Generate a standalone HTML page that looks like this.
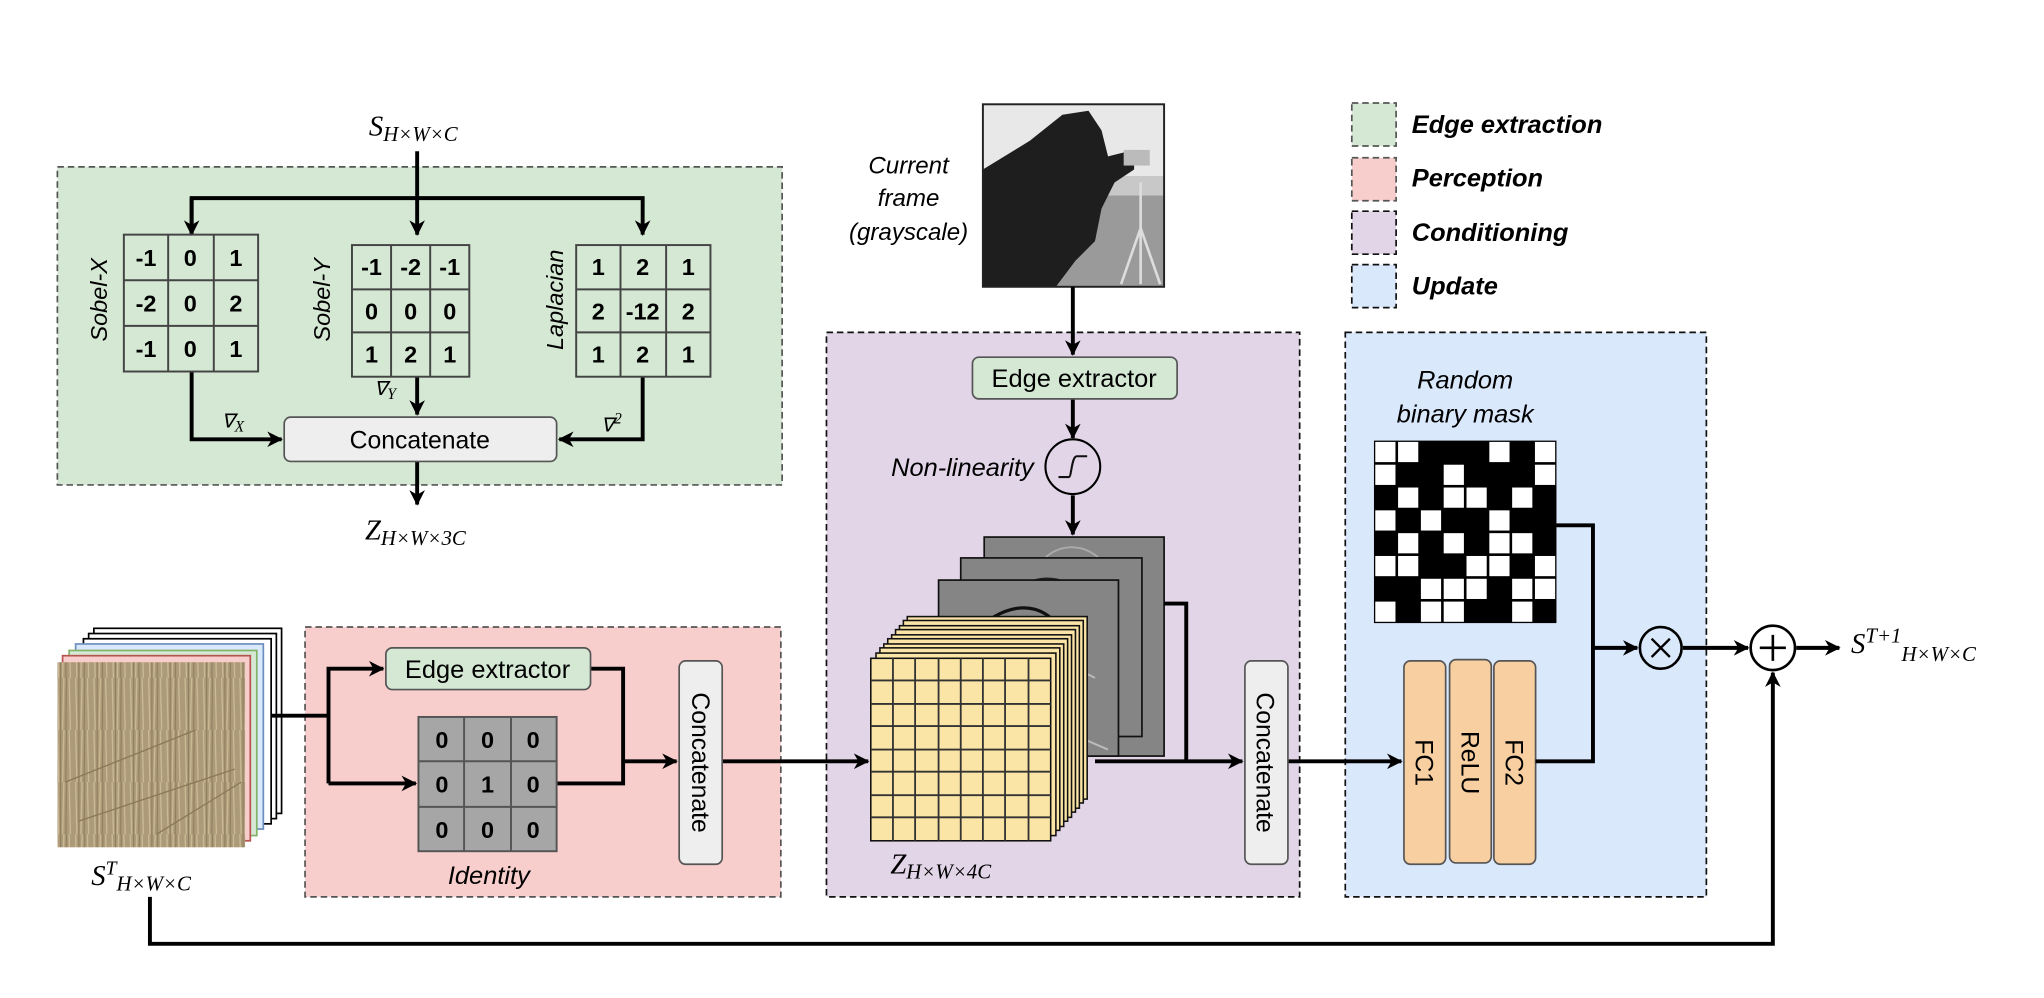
<!DOCTYPE html>
<html><head><meta charset="utf-8"><style>
html,body{margin:0;padding:0;background:#fff;}
svg{display:block;}
.s{font-family:"Liberation Sans",sans-serif;}
.m{font-family:"Liberation Serif",serif;font-style:italic;}
</style></head><body>
<svg width="2044" height="998" viewBox="0 0 1568 765.6" xmlns="http://www.w3.org/2000/svg">
<defs>
<marker id="a" markerWidth="12" markerHeight="12" refX="11" refY="6" orient="auto" markerUnits="userSpaceOnUse"><path d="M0,0 L12,6 L0,12 L3.5,6 Z" fill="#000"/></marker>
<pattern id="grass" width="14" height="40" patternUnits="userSpaceOnUse">
<rect width="14" height="40" fill="#ad9a78"/>
<path d="M2,0 L3,40 M7,0 L6,40 M11,0 L12,40" stroke="#cbbb96" stroke-width="1"/>
<path d="M4.5,0 L4.5,40 M9,0 L8.5,40" stroke="#8a785a" stroke-width="0.7"/>
</pattern>
</defs>
<rect width="1568" height="766" fill="#fff"/>

<rect x="44" y="128" width="556" height="244" fill="#d5e8d4" stroke="#555" stroke-width="1.3" stroke-dasharray="5,3"/>
<rect x="234" y="481" width="365" height="207" fill="#f8cecc" stroke="#555" stroke-width="1.3" stroke-dasharray="5,3"/>
<rect x="634" y="255" width="363" height="433" fill="#e1d5e7" stroke="#111" stroke-width="1.3" stroke-dasharray="5,3"/>
<rect x="1032" y="255" width="277" height="433" fill="#dae8fc" stroke="#111" stroke-width="1.3" stroke-dasharray="5,3"/>

<rect x="1037" y="79" width="34" height="33" fill="#d5e8d4" stroke="#555" stroke-width="1.3" stroke-dasharray="5,3"/>
<rect x="1037" y="121" width="34" height="33" fill="#f8cecc" stroke="#555" stroke-width="1.3" stroke-dasharray="5,3"/>
<rect x="1037" y="162" width="34" height="33" fill="#e1d5e7" stroke="#111" stroke-width="1.3" stroke-dasharray="5,3"/>
<rect x="1037" y="203" width="34" height="33" fill="#dae8fc" stroke="#111" stroke-width="1.3" stroke-dasharray="5,3"/>
<g class="s" font-size="19.5" font-weight="bold" font-style="italic">
<text x="1083" y="102">Edge extraction</text>
<text x="1083" y="143">Perception</text>
<text x="1083" y="185">Conditioning</text>
<text x="1083" y="226">Update</text>
</g>

<text x="283" y="104" class="m" font-size="22">S<tspan font-size="16" dy="4">H×W×C</tspan></text>
<g stroke="#000" stroke-width="3" fill="none">
<line x1="320" y1="116" x2="320" y2="180" marker-end="url(#a)"/>
<polyline points="147,180 147,152 493,152 493,180" marker-end="url(#a)"/>
<line x1="147" y1="152" x2="147" y2="180" marker-end="url(#a)"/>
<polyline points="147,285 147,337 216,337" marker-end="url(#a)"/>
<line x1="320" y1="289" x2="320" y2="318" marker-end="url(#a)"/>
<polyline points="493,289 493,337 429,337" marker-end="url(#a)"/>
<line x1="320" y1="354" x2="320" y2="387" marker-end="url(#a)"/>
</g>
<g stroke="#444" stroke-width="1.5" fill="none">
<rect x="95" y="180" width="103" height="105"/><line x1="129" y1="180" x2="129" y2="285"/><line x1="164" y1="180" x2="164" y2="285"/><line x1="95" y1="215" x2="198" y2="215"/><line x1="95" y1="250" x2="198" y2="250"/>
<rect x="270" y="188" width="90" height="101"/><line x1="300" y1="188" x2="300" y2="289"/><line x1="330" y1="188" x2="330" y2="289"/><line x1="270" y1="222" x2="360" y2="222"/><line x1="270" y1="255" x2="360" y2="255"/>
<rect x="442" y="188" width="103" height="101"/><line x1="476" y1="188" x2="476" y2="289"/><line x1="511" y1="188" x2="511" y2="289"/><line x1="442" y1="222" x2="545" y2="222"/><line x1="442" y1="255" x2="545" y2="255"/>
</g>
<g class="s" font-size="18" font-weight="bold" text-anchor="middle">
<text x="112" y="204">-1</text><text x="146" y="204">0</text><text x="181" y="204">1</text>
<text x="112" y="239">-2</text><text x="146" y="239">0</text><text x="181" y="239">2</text>
<text x="112" y="274">-1</text><text x="146" y="274">0</text><text x="181" y="274">1</text>
<text x="285" y="211">-1</text><text x="315" y="211">-2</text><text x="345" y="211">-1</text>
<text x="285" y="245">0</text><text x="315" y="245">0</text><text x="345" y="245">0</text>
<text x="285" y="278">1</text><text x="315" y="278">2</text><text x="345" y="278">1</text>
<text x="459" y="211">1</text><text x="493" y="211">2</text><text x="528" y="211">1</text>
<text x="459" y="245">2</text><text x="493" y="245">-12</text><text x="528" y="245">2</text>
<text x="459" y="278">1</text><text x="493" y="278">2</text><text x="528" y="278">1</text>
</g>
<g class="s" font-size="18" font-style="italic" text-anchor="middle">
<text transform="translate(82,230) rotate(-90)">Sobel-X</text>
<text transform="translate(253,230) rotate(-90)">Sobel-Y</text>
<text transform="translate(432,230) rotate(-90)">Laplacian</text>
</g>
<g class="m" font-size="15">
<text x="170" y="328">∇<tspan font-size="12" dy="3">X</tspan></text>
<text x="287" y="303">∇<tspan font-size="12" dy="3">Y</tspan></text>
<text x="461" y="331">∇<tspan font-size="12" dy="-6">2</tspan></text>
</g>
<rect x="218" y="320" width="209" height="34" rx="5" fill="#eeeeee" stroke="#555" stroke-width="1.3"/>
<text x="322" y="344" class="s" font-size="19" text-anchor="middle">Concatenate</text>
<text x="280" y="414" class="m" font-size="22">Z<tspan font-size="16" dy="4">H×W×3C</tspan></text>

<g>
<rect x="754" y="80" width="139" height="140" fill="#c8c8c8"/>
<rect x="754" y="80" width="139" height="55" fill="#e8e8e8"/>
<rect x="754" y="150" width="139" height="70" fill="#9a9a9a"/>
<path d="M754,130 L790,108 L815,88 L835,85 L845,100 L850,120 L870,115 L870,130 L855,140 L845,160 L840,185 L825,200 L810,220 L754,220 Z" fill="#1e1e1e"/>
<rect x="862" y="115" width="20" height="12" fill="#bbb"/>
<path d="M875,140 L875,175 M875,175 L860,218 M875,175 L890,218 M875,175 L875,218" stroke="#ddd" stroke-width="2"/>
<rect x="754" y="80" width="139" height="140" fill="none" stroke="#222" stroke-width="1.5"/>
</g>
<g class="s" font-size="18.5" font-style="italic" text-anchor="middle">
<text x="697" y="133">Current</text><text x="697" y="158">frame</text><text x="697" y="184">(grayscale)</text>
</g>
<g stroke="#000" stroke-width="3" fill="none">
<line x1="823" y1="220" x2="823" y2="272" marker-end="url(#a)"/>
<line x1="823" y1="306" x2="823" y2="336" marker-end="url(#a)"/>
<line x1="823" y1="380" x2="823" y2="410" marker-end="url(#a)"/>
</g>
<rect x="746" y="274" width="157" height="32" rx="5" fill="#d5e8d4" stroke="#555" stroke-width="1.3"/>
<text x="824" y="297" class="s" font-size="19.5" text-anchor="middle">Edge extractor</text>
<circle cx="823" cy="358" r="21" fill="none" stroke="#000" stroke-width="1.6"/>
<path d="M812,366 L820,366 C822,366 822,350 826,350 L834,350" fill="none" stroke="#111" stroke-width="1.6"/>
<text x="793" y="365" class="s" font-size="19.5" font-style="italic" text-anchor="end">Non-linearity</text>

<rect x="755" y="412" width="138" height="168" fill="#858585" stroke="#111" stroke-width="1.3"/>
<path d="M800,430 C810,418 830,415 845,430" stroke="#aaa" fill="none" stroke-width="1.5"/>
<rect x="737" y="428" width="139" height="137" fill="#858585" stroke="#111" stroke-width="1.3"/>
<path d="M780,455 C790,440 815,440 830,455" stroke="#222" fill="none" stroke-width="1.5"/>
<rect x="720" y="445" width="138" height="135" fill="#858585" stroke="#111" stroke-width="1.3"/>
<path d="M745,488 C760,470 790,455 810,478" stroke="#111" fill="none" stroke-width="2.5"/>
<path d="M820,510 L840,520 M815,560 L850,575" stroke="#bbb" stroke-width="1.5"/>
<g fill="#fbe5a6" stroke="#111" stroke-width="1.2">
<rect x="696" y="473" width="138" height="140"/>
<rect x="693" y="476" width="138" height="140"/>
<rect x="690" y="480" width="138" height="140"/>
<rect x="687" y="483" width="138" height="140"/>
<rect x="684" y="487" width="138" height="140"/>
<rect x="681" y="490" width="138" height="140"/>
<rect x="678" y="494" width="138" height="140"/>
<rect x="675" y="497" width="138" height="140"/>
<rect x="672" y="501" width="138" height="140"/>
<rect x="668" y="505" width="138" height="140"/>
</g>
<g stroke="#333" stroke-width="1.4">
<line x1="685" y1="505" x2="685" y2="645"/><line x1="702" y1="505" x2="702" y2="645"/><line x1="720" y1="505" x2="720" y2="645"/><line x1="737" y1="505" x2="737" y2="645"/><line x1="754" y1="505" x2="754" y2="645"/><line x1="771" y1="505" x2="771" y2="645"/><line x1="789" y1="505" x2="789" y2="645"/>
<line x1="668" y1="522" x2="806" y2="522"/><line x1="668" y1="540" x2="806" y2="540"/><line x1="668" y1="557" x2="806" y2="557"/><line x1="668" y1="575" x2="806" y2="575"/><line x1="668" y1="592" x2="806" y2="592"/><line x1="668" y1="610" x2="806" y2="610"/><line x1="668" y1="627" x2="806" y2="627"/>
</g>
<text x="683" y="670" class="m" font-size="22">Z<tspan font-size="16" dy="4">H×W×4C</tspan></text>
<g stroke="#000" stroke-width="3" fill="none">
<polyline points="893,463 910,463 910,584"/>
<line x1="840" y1="584" x2="953" y2="584" marker-end="url(#a)"/>
<line x1="554" y1="584" x2="666" y2="584" marker-end="url(#a)"/>
<line x1="988" y1="584" x2="1075" y2="584" marker-end="url(#a)"/>
</g>
<rect x="955" y="507" width="33" height="156" rx="5" fill="#eeeeee" stroke="#555" stroke-width="1.3"/>
<text transform="translate(964,585) rotate(90)" class="s" font-size="19" text-anchor="middle">Concatenate</text>

<g>
<rect x="72" y="482" width="144" height="142" fill="#fff" stroke="#000" stroke-width="1.3"/>
<rect x="68" y="486" width="144" height="142" fill="#fff" stroke="#000" stroke-width="1.3"/>
<rect x="64" y="490" width="144" height="142" fill="#fff" stroke="#000" stroke-width="1.3"/>
<rect x="58" y="494" width="144" height="142" fill="#dae8fc" stroke="#6c8ebf" stroke-width="1.3"/>
<rect x="53" y="499" width="144" height="142" fill="#d5e8d4" stroke="#82b366" stroke-width="1.3"/>
<rect x="48" y="503" width="144" height="142" fill="#f8cecc" stroke="#b85450" stroke-width="1.3"/>
<rect x="44" y="508" width="144" height="142" fill="url(#grass)"/>
<path d="M50,600 L150,560 M60,630 L180,590 M120,640 L185,600" stroke="#8a7858" stroke-width="1"/>
</g>
<text x="70" y="679" class="m" font-size="22">S<tspan font-size="15" dy="-8">T</tspan><tspan font-size="16" dy="12">H×W×C</tspan></text>
<g stroke="#000" stroke-width="3" fill="none">
<line x1="208" y1="549" x2="252" y2="549"/>
<polyline points="252,601 252,513 294,513" marker-end="url(#a)"/>
<line x1="252" y1="601" x2="319" y2="601" marker-end="url(#a)"/>
<polyline points="453,513 478,513 478,601 427,601"/>
<line x1="478" y1="584" x2="519" y2="584" marker-end="url(#a)"/>
</g>
<rect x="296" y="497" width="157" height="32" rx="5" fill="#d5e8d4" stroke="#555" stroke-width="1.3"/>
<text x="374" y="520" class="s" font-size="19.5" text-anchor="middle">Edge extractor</text>
<rect x="321" y="550" width="106" height="103" fill="#a6a6a6" stroke="#555" stroke-width="1.5"/>
<g stroke="#555" stroke-width="1.5"><line x1="356" y1="550" x2="356" y2="653"/><line x1="392" y1="550" x2="392" y2="653"/><line x1="321" y1="584" x2="427" y2="584"/><line x1="321" y1="619" x2="427" y2="619"/></g>
<g class="s" font-size="18" font-weight="bold" text-anchor="middle">
<text x="339" y="574">0</text><text x="374" y="574">0</text><text x="409" y="574">0</text>
<text x="339" y="608">0</text><text x="374" y="608">1</text><text x="409" y="608">0</text>
<text x="339" y="643">0</text><text x="374" y="643">0</text><text x="409" y="643">0</text>
</g>
<text x="375" y="678" class="s" font-size="19.5" font-style="italic" text-anchor="middle">Identity</text>
<rect x="521" y="507" width="33" height="156" rx="5" fill="#eeeeee" stroke="#555" stroke-width="1.3"/>
<text transform="translate(531,585) rotate(90)" class="s" font-size="19" text-anchor="middle">Concatenate</text>

<g class="s" font-size="19.5" font-style="italic" text-anchor="middle">
<text x="1124" y="298">Random</text><text x="1124" y="324">binary mask</text>
</g>
<rect x="1054" y="338" width="140" height="140" fill="#000"/>
<g fill="#fff">
<rect x="1055" y="339" width="15.5" height="15.5"/><rect x="1072.5" y="339" width="15.5" height="15.5"/><rect x="1142.5" y="339" width="15.5" height="15.5"/><rect x="1177.5" y="339" width="15.5" height="15.5"/>
<rect x="1055" y="356.5" width="15.5" height="15.5"/><rect x="1107.5" y="356.5" width="15.5" height="15.5"/><rect x="1177.5" y="356.5" width="15.5" height="15.5"/>
<rect x="1072.5" y="374" width="15.5" height="15.5"/><rect x="1107.5" y="374" width="15.5" height="15.5"/><rect x="1125" y="374" width="15.5" height="15.5"/><rect x="1160" y="374" width="15.5" height="15.5"/>
<rect x="1055" y="391.5" width="15.5" height="15.5"/><rect x="1090" y="391.5" width="15.5" height="15.5"/><rect x="1142.5" y="391.5" width="15.5" height="15.5"/>
<rect x="1072.5" y="409" width="15.5" height="15.5"/><rect x="1107.5" y="409" width="15.5" height="15.5"/><rect x="1142.5" y="409" width="15.5" height="15.5"/><rect x="1160" y="409" width="15.5" height="15.5"/>
<rect x="1055" y="426.5" width="15.5" height="15.5"/><rect x="1072.5" y="426.5" width="15.5" height="15.5"/><rect x="1125" y="426.5" width="15.5" height="15.5"/><rect x="1142.5" y="426.5" width="15.5" height="15.5"/><rect x="1177.5" y="426.5" width="15.5" height="15.5"/>
<rect x="1090" y="444" width="15.5" height="15.5"/><rect x="1107.5" y="444" width="15.5" height="15.5"/><rect x="1125" y="444" width="15.5" height="15.5"/><rect x="1160" y="444" width="15.5" height="15.5"/><rect x="1177.5" y="444" width="15.5" height="15.5"/>
<rect x="1055" y="461.5" width="15.5" height="15.5"/><rect x="1090" y="461.5" width="15.5" height="15.5"/><rect x="1107.5" y="461.5" width="15.5" height="15.5"/><rect x="1160" y="461.5" width="15.5" height="15.5"/>
</g>
<g fill="#f7cfa0" stroke="#555" stroke-width="1.3">
<rect x="1077" y="507" width="32" height="156" rx="5"/>
<rect x="1112" y="506" width="32" height="156" rx="5"/>
<rect x="1146" y="507" width="32" height="156" rx="5"/>
</g>
<g class="s" font-size="19" text-anchor="middle">
<text transform="translate(1086,585) rotate(90)">FC1</text>
<text transform="translate(1121,585) rotate(90)">ReLU</text>
<text transform="translate(1155,585) rotate(90)">FC2</text>
</g>
<g stroke="#000" stroke-width="3" fill="none">
<polyline points="1194,403 1222,403 1222,497 1256,497" marker-end="url(#a)"/>
<polyline points="1178,584 1222,584 1222,497"/>
<line x1="1291" y1="497" x2="1341" y2="497" marker-end="url(#a)"/>
<line x1="1378" y1="497" x2="1411" y2="497" marker-end="url(#a)"/>
<polyline points="115,688 115,724 1360,724 1360,516" marker-end="url(#a)"/>
</g>
<circle cx="1274" cy="497" r="16" fill="none" stroke="#000" stroke-width="2"/>
<path d="M1267,490 L1281,504 M1281,490 L1267,504" stroke="#000" stroke-width="1.8"/>
<circle cx="1360" cy="497" r="17" fill="none" stroke="#000" stroke-width="2"/>
<path d="M1350,497 L1370,497 M1360,487 L1360,507" stroke="#000" stroke-width="2"/>
<text x="1420" y="501" class="m" font-size="22">S<tspan font-size="16" dy="-8">T+1</tspan><tspan font-size="16" dy="14">H×W×C</tspan></text>
</svg>
</body></html>
